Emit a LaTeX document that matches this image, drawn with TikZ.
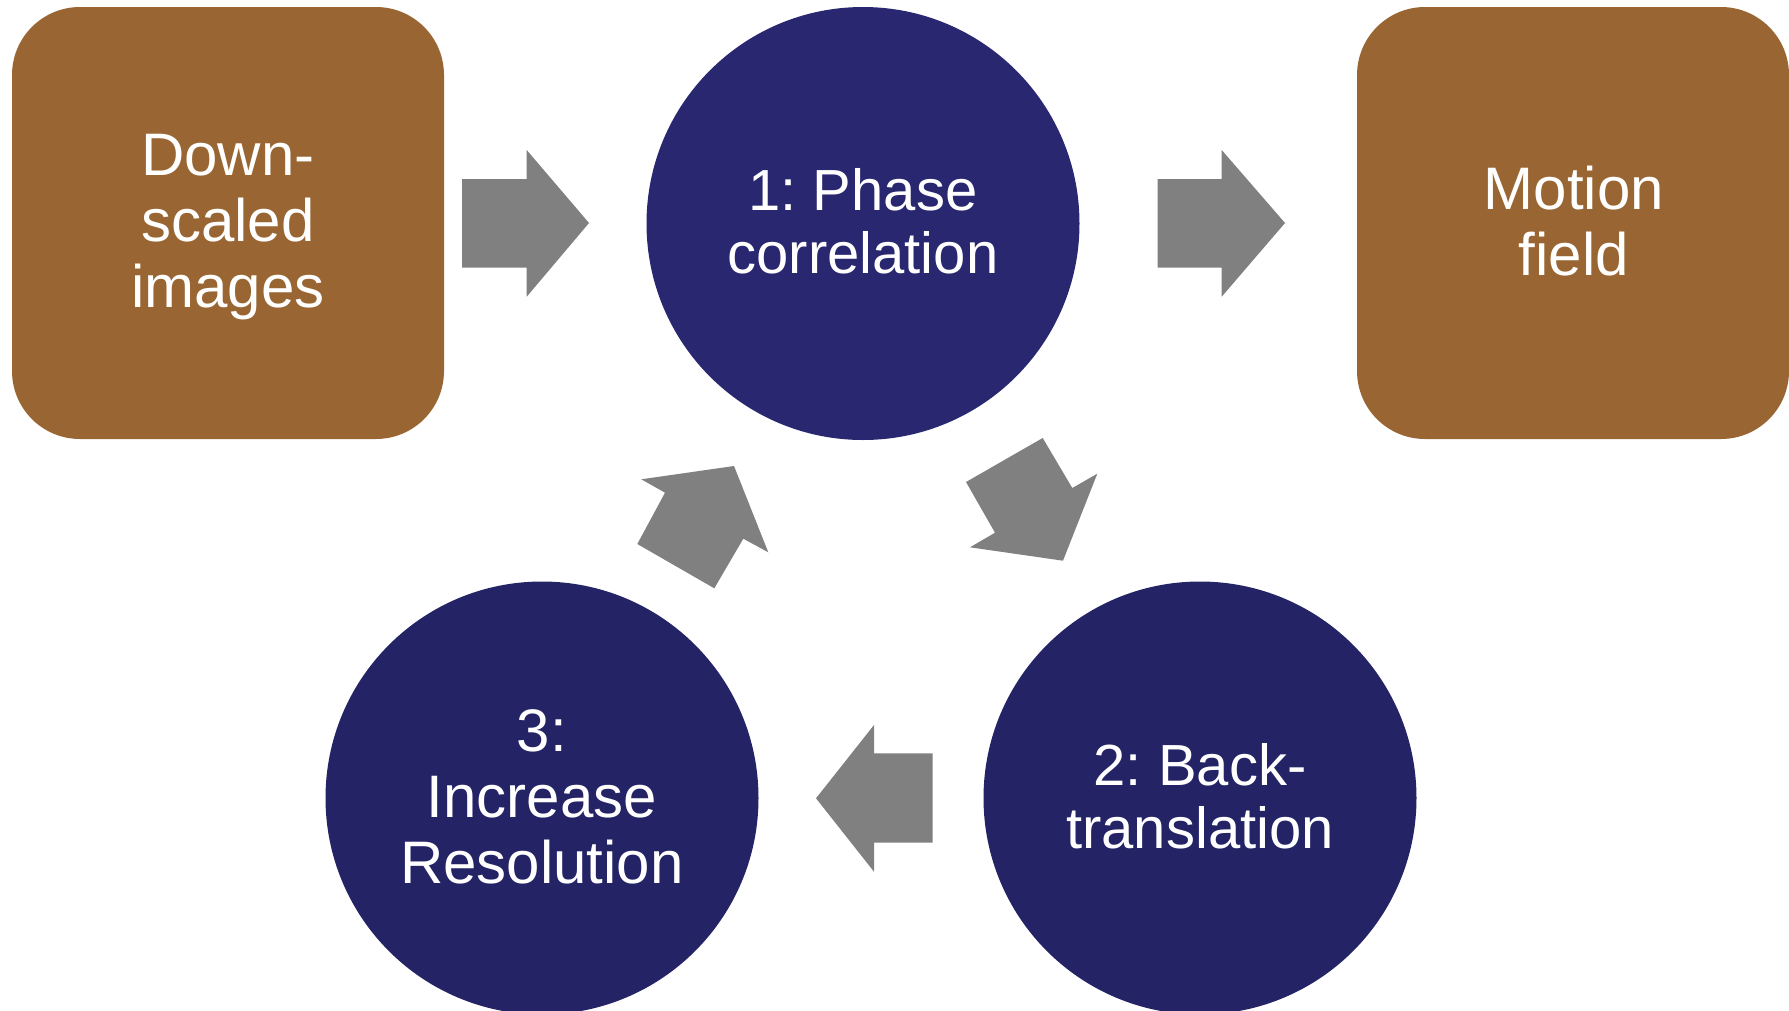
\documentclass[tikz,border=0pt]{standalone}
\usepackage{fontspec}
\setmainfont{Liberation Sans}
\frenchspacing
\definecolor{boxbrown}{RGB}{153,102,51}
\definecolor{navytop}{RGB}{40,39,112}
\definecolor{navybot}{RGB}{35,35,102}
\definecolor{arrowgray}{RGB}{128,128,128}
\tikzset{
  brownbox/.style={draw=none, fill=boxbrown, rounded corners=68pt, minimum width=432pt, minimum height=432pt, inner sep=0pt},
  navytopcirc/.style={circle, draw=none, fill=navytop, minimum size=433pt, inner sep=0pt},
  navybotcirc/.style={circle, draw=none, fill=navybot, minimum size=433pt, inner sep=0pt},
  lbl/.style={text=white, align=center, inner sep=0pt},
  biglbl/.style={lbl, font=\fontsize{60}{66}\selectfont},
  smalllbl/.style={lbl, font=\fontsize{58}{63}\selectfont},
  blockarrow/.style={fill=arrowgray, draw=none}
}
\begin{document}
\begin{tikzpicture}[x=1pt, y=-1pt]
\useasboundingbox (0,0) rectangle (1789,1010);
\clip (0,0) rectangle (1789,1010);
% shapes
\node[brownbox] (src) at (228,223) {};
\node[brownbox] (dst) at (1573,223) {};
\node[navytopcirc] (c1) at (863,223.5) {};
\node[navybotcirc] (c2) at (1200,798) {};
\node[navybotcirc] (c3) at (542,798) {};
% labels
\node[biglbl] (tsrc) at (228,227.3) {Down-\\scaled\\images};
\node[biglbl] (tdst) at (1574,221.5) {Motion\\field};
\node[smalllbl] (tc1) at (863,221) {1: Phase\\correlation};
\node[smalllbl] (tc2) at (1200,796) {2: Back-\\translation};
\node[biglbl] (tc3) at (542,796.5) {3:\\Increase\\Resolution};
% block arrows
\fill[blockarrow] (462,179) -- (526.7,179) -- (526.7,150) -- (589,223) -- (526.7,296.7) -- (526.7,267.7) -- (462,267.7) -- cycle;
\fill[blockarrow] (1157.7,179) -- (1221.7,179) -- (1221.7,150) -- (1285,223) -- (1221.7,296.7) -- (1221.7,267.7) -- (1157.7,267.7) -- cycle;
\fill[blockarrow] (966,482) -- (1042.7,438) -- (1072.3,488) -- (1097.3,473.7) -- (1063,560.7) -- (970,547.3) -- (995,532.7) -- cycle;
\fill[blockarrow] (932.7,753.3) -- (874,753.3) -- (874,725) -- (816,798.3) -- (874,871.7) -- (874,842.7) -- (932.7,842.7) -- cycle;
\fill[blockarrow] (637.3,544) -- (714.3,588.3) -- (743.3,538.7) -- (768.3,552.3) -- (734,466) -- (641.3,479.3) -- (665,492.7) -- cycle;
\end{tikzpicture}
\end{document}
